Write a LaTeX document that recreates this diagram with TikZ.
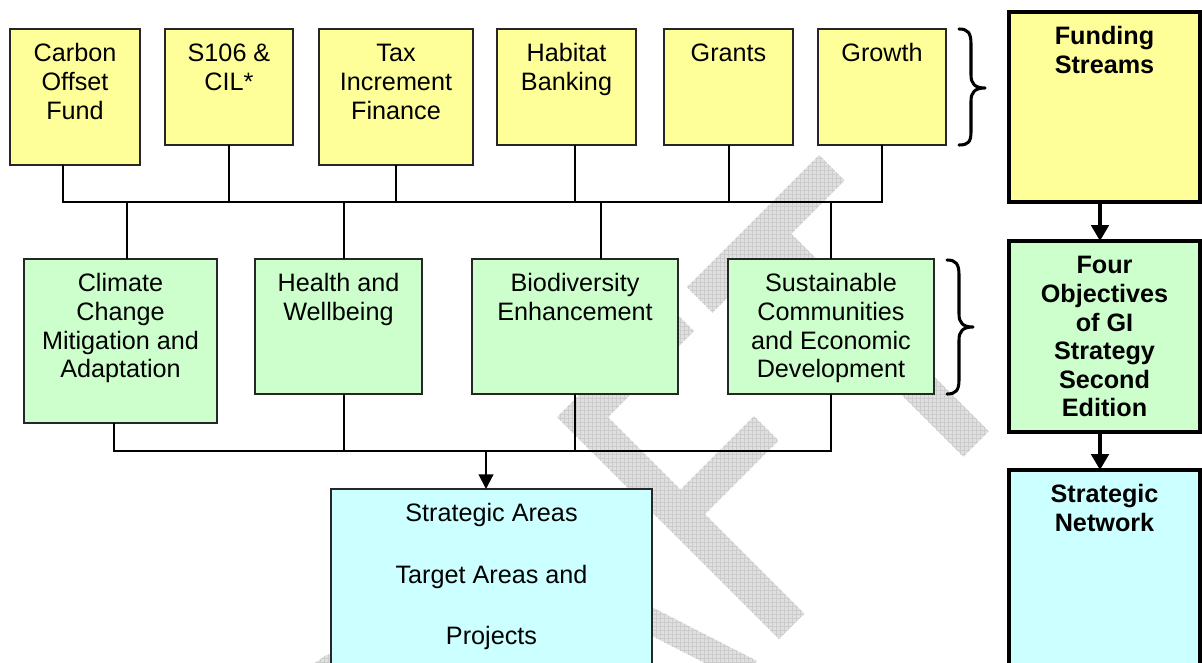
\documentclass[tikz,border=0pt]{standalone}
\usepackage{fontspec}
\setmainfont{Liberation Sans}
\usetikzlibrary{calc,fit,arrows.meta,patterns}

\definecolor{fundY}{HTML}{FFFF99}
\definecolor{objG}{HTML}{CCFFCC}
\definecolor{netC}{HTML}{CCFFFF}

\tikzset{
  plainbox/.style={draw=black!85, line width=1.3pt, inner sep=0pt, outer sep=0pt},
  fundbox/.style={plainbox, fill=fundY},
  objbox/.style={plainbox, fill=objG},
  areabox/.style={plainbox, fill=netC},
  keybox/.style={draw=black, line width=3pt, inner sep=0pt, outer sep=0pt},
  keyfund/.style={keybox, fill=fundY},
  keyobj/.style={keybox, fill=objG},
  keynet/.style={keybox, fill=netC},
  boxtext/.style={font=\fontsize{18.9}{21.4}\selectfont, align=center, inner sep=0pt, anchor=north},
  keytext/.style={boxtext, font=\fontsize{18.9}{21.4}\selectfont\bfseries},
  areatext/.style={boxtext, font=\fontsize{18.9}{45.8}\selectfont},
  conn/.style={line width=1.5pt, black},
  arr/.style={conn, -{Triangle[length=11pt,width=11pt]}},
  thickarr/.style={line width=3pt, black, -{Triangle[length=12pt,width=13pt]}},
  bracepath/.style={line width=2.3pt, line cap=round, line join=round},
  wmark/.style={preaction={fill=black!12}, pattern=grid, pattern color=black!20}
}

% box node plus its top-aligned caption
% #1 name, #2 box style, #3-#6 corners, #7 caption style, #8 caption
\newcommand\diagbox[8]{%
  \node[#2, fit={(#3,#4) (#5,#6)}] (#1) {};
  \node[#7] (#1-text) at ($(#1.north)+(0,14)$) {\rule{0pt}{14pt}#8};
}

\begin{document}
\begin{tikzpicture}[x=0.75pt,y=-0.75pt]
\useasboundingbox (0,0) rectangle (1202,662);
\fill[white] (0,0) rectangle (1202,662);

% ---- background DRAFT lettering ----
% R (bowl)
\path[wmark] (207,767) -- (302,672) -- (325.7,655.4) -- (353.7,647.9) -- (382.6,650.4)
  -- (420,672) -- (420,790) -- (325,885) -- cycle;
% A
\path[wmark] (433.5,540.5) -- (463.5,510.5) -- (757,661) -- (738,680) -- (653.4,636.6)
  -- (559.6,730.4) -- (603,815) -- (584,834) -- cycle;
% F
\path[wmark] (557,417) -- (668.5,305.5) -- (694,331) -- (608,417) -- (680.5,489.5)
  -- (754,416) -- (778.5,440.5) -- (705,514) -- (804.5,613.5) -- (779,639) -- cycle;
% T
\path[wmark] (687,287) -- (819,155) -- (844.5,180.5) -- (791.25,233.75) -- (988.75,431.25)
  -- (963.25,456.75) -- (765.75,259.25) -- (712.5,312.5) -- cycle;

% ---- funding streams ----
\diagbox{carbon}{fundbox}{10}{29}{140}{165}{boxtext}{Carbon\\Offset\\Fund}
\diagbox{s106}{fundbox}{165}{29}{293}{145}{boxtext}{S106 \&\\CIL*}
\diagbox{tax}{fundbox}{319}{29}{473}{165}{boxtext}{Tax\\Increment\\Finance}
\diagbox{habitat}{fundbox}{497}{29}{636}{145}{boxtext}{Habitat\\Banking}
\diagbox{grants}{fundbox}{664}{29}{793}{145}{boxtext}{Grants}
\diagbox{growth}{fundbox}{818}{29}{946}{145}{boxtext}{Growth}

% ---- objectives ----
\diagbox{climate}{objbox}{24}{259}{217}{423}{boxtext}{Climate\\Change\\Mitigation and\\Adaptation}
\diagbox{health}{objbox}{255}{259}{422}{394}{boxtext}{Health and\\Wellbeing}
\diagbox{biodiv}{objbox}{472}{259}{678}{394}{boxtext}{Biodiversity\\Enhancement}
\diagbox{sustain}{objbox}{728}{259}{934}{394}{boxtext}{Sustainable\\Communities\\and Economic\\Development}

% ---- outcome ----
\diagbox{areas}{areabox}{331}{489}{652}{700}{areatext}{Strategic Areas\\Target Areas and\\Projects}

% ---- key column ----
\diagbox{funding}{keyfund}{1009}{12}{1200}{202}{keytext}{Funding\\Streams}
\diagbox{four}{keyobj}{1009}{241}{1200}{432}{keytext}{Four\\Objectives\\of GI\\Strategy\\Second\\Edition}
\diagbox{network}{keynet}{1009}{470}{1200}{700}{keytext}{Strategic\\Network}

% ---- upper bus ----
\coordinate (topbus) at (0,202);
\draw[conn] ($(carbon.south)+(-12,0)$) |- (growth.south |- topbus) -- (growth.south);
\draw[conn] (s106.south) -- (s106.south |- topbus);
\draw[conn] (tax.south) -- (tax.south |- topbus);
\draw[conn] ($(habitat.south)+(8.5,0)$) -- ++(0,57);
\draw[conn] ($(grants.south)+(0.5,0)$) -- ++(0,57);
\draw[conn] ($(climate.north)+(6.5,0)$) -- ++(0,-57);
\draw[conn] ($(health.north)+(5.5,0)$) -- ++(0,-57);
\draw[conn] ($(biodiv.north)+(26,0)$) -- ++(0,-57);
\draw[conn] (sustain.north) -- (sustain.north |- topbus);

% ---- lower bus ----
\coordinate (lowbus) at (0,451);
\draw[conn] ($(climate.south)+(-6.5,0)$) |- (sustain.south |- lowbus) -- (sustain.south);
\draw[conn] ($(health.south)+(5.5,0)$) -- ++(0,57);
\draw[conn] (biodiv.south) -- (biodiv.south |- lowbus);
\draw[arr] ($(areas.north)+(-5.5,-38)$) -- ($(areas.north)+(-5.5,0)$);

% ---- key column arrows ----
\draw[thickarr] ($(funding.south)+(-4.5,0)$) -- ($(four.north)+(-4.5,0)$);
\draw[thickarr] ($(four.south)+(-4.5,0)$) -- ($(network.north)+(-4.5,0)$);

% ---- braces ----
\draw[bracepath] (959,29) .. controls (968,29) and (971,33) .. (971,44) -- (971,75)
  .. controls (971,84) and (975,88) .. (985,88)
  .. controls (975,88) and (971,92) .. (971,101) -- (971,132)
  .. controls (971,142) and (968,145) .. (959,145);
\draw[bracepath] (947,260) .. controls (956,260) and (959,264) .. (959,275) -- (959,314)
  .. controls (959,323) and (963,327) .. (973,327)
  .. controls (963,327) and (959,331) .. (959,340) -- (959,380)
  .. controls (959,390) and (956,394) .. (947,394);
\end{tikzpicture}
\end{document}
